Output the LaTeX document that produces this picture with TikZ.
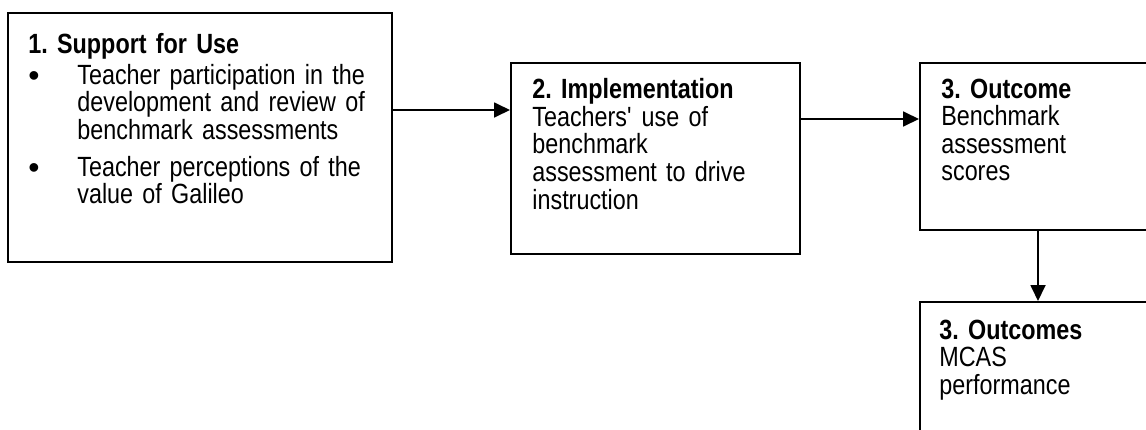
\documentclass[tikz,border=0pt]{standalone}
\usepackage{fontspec}
\setmainfont{Liberation Sans}[FakeStretch=0.84]
\newfontfamily\bulfont{Liberation Sans}
\usetikzlibrary{arrows.meta,positioning,calc}
\frenchspacing

\tikzset{
  frame/.style={draw, line width=1.1pt, inner sep=0pt, anchor=north west},
  txt/.style={anchor=base west, inner sep=0pt, align=left, text width=#1,
    font=\fontsize{13.9}{13.8}\selectfont},
  link/.style={-{Triangle[length=8pt,width=7.5pt]}, line width=0.9pt},
}
\newcommand{\bul}{\makebox[24.5pt][l]{\raisebox{-1pt}{\bulfont\fontsize{16}{14}\selectfont\textbullet}}}
\newcommand{\ind}{\hspace*{24.5pt}}

\begin{document}
\begin{tikzpicture}[x=0.5pt, y=-0.5pt]
    \useasboundingbox (0,0) rectangle (1146,429);
    % Boxes
    \node[frame, minimum width=192pt, minimum height=124.5pt] (support) at (7,12) {};
    \node[frame, minimum width=144.5pt, minimum height=95.5pt] (impl) at (510,62) {};
    \node[frame, minimum width=130pt, minimum height=83.5pt] (bench) at (919,62) {};
    \node[frame, minimum width=130pt, minimum height=80pt] (mcas) at (919,301) {};
    % Texts
    \node[txt=180pt] (supporttxt) at (28,53) {\textbf{1. Support for Use}\\[1.8pt]
      \bul Teacher participation in the\\ \ind development and review of\\
      \ind benchmark assessments\\[4.6pt]
      \bul Teacher perceptions of the\\ \ind value of Galileo};
    \node[txt=130pt] (impltxt) at (532,98) {\textbf{2. Implementation}\\[0.3pt]
      Teachers\textquotesingle\ use of\\ benchmark\\ assessment to drive\\ instruction};
    \node[txt=100pt] (benchtxt) at (941,98) {\textbf{3. Outcome}\\
      Benchmark\\ assessment\\ scores};
    \node[txt=100pt] (mcastxt) at (939,339) {\textbf{3. Outcomes}\\
      MCAS\\ performance};
    % Arrows
    \draw[link] (support.east |- 0,110) -- (impl.west |- 0,110);
    \draw[link] (impl.east |- 0,119) -- (bench.west |- 0,119);
    \draw[link] (bench.south -| 1038,0) -- (mcas.north -| 1038,0);
\end{tikzpicture}
\end{document}
